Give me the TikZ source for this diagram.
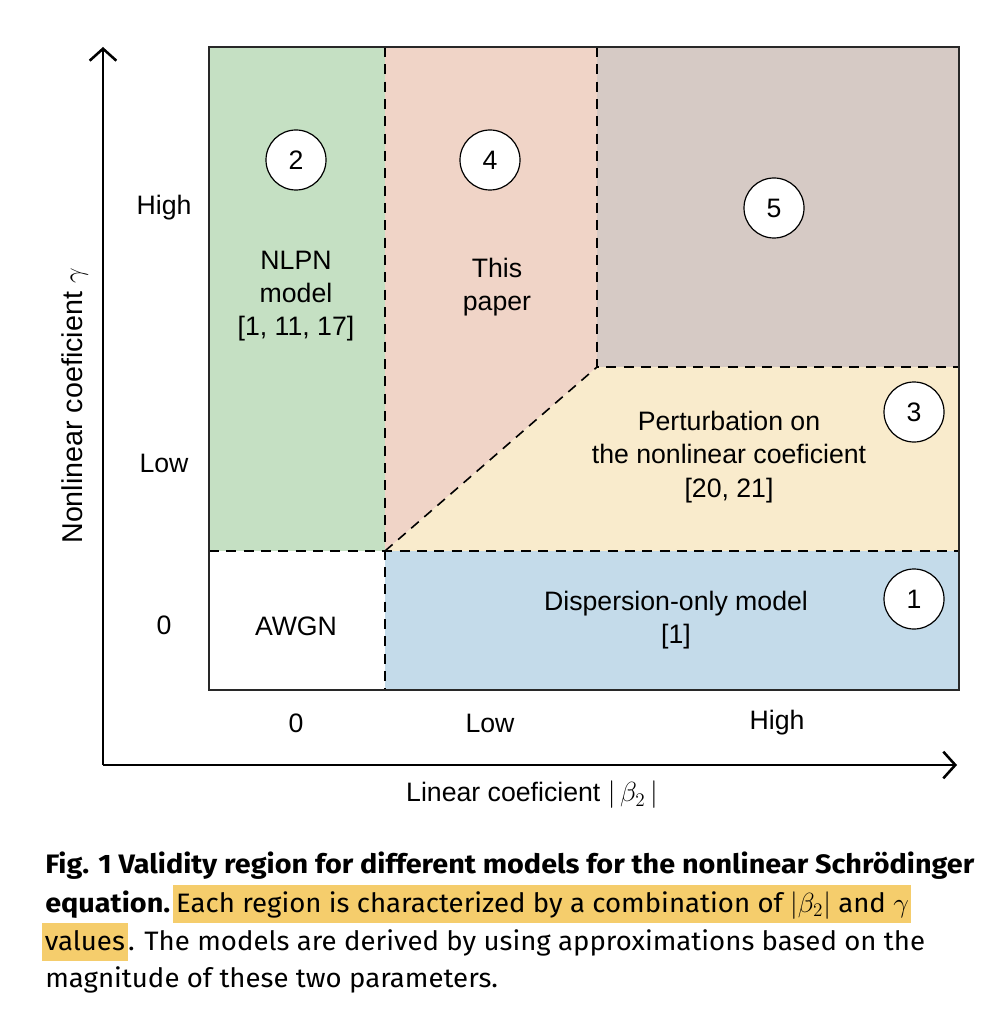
\documentclass[tikz,border=0pt]{standalone}
\usepackage{fontspec}
\setmainfont{Liberation Sans}
\newfontfamily\capfont[FakeStretch=1.035, BoldFeatures={FakeStretch=1.08}]{Fira Sans}
\usetikzlibrary{arrows.meta,positioning}
\definecolor{regGreen}{RGB}{197,224,195}
\definecolor{regPeach}{RGB}{240,212,199}
\definecolor{regTaupe}{RGB}{214,202,197}
\definecolor{regYellow}{RGB}{249,235,204}
\definecolor{regBlue}{RGB}{196,219,234}
\definecolor{hlYellow}{RGB}{245,205,108}
\definecolor{boxEdge}{RGB}{40,40,40}
\tikzset{
  lbl/.style={inner sep=0.75pt, font=\fontsize{20}{25}\selectfont, align=center},
  num/.style={circle, draw, fill=white, line width=0.9pt, minimum size=45pt, inner sep=0pt, font=\fontsize{20}{25}\selectfont},
  bound/.style={line width=1.2pt, dash pattern={on 7.5pt off 5.5pt}},
  axis/.style={line width=1.9pt, -{Straight Barb[length=9pt,width=20pt,line width=1.9pt]}},
  capline/.style={anchor=base west, inner sep=0pt, font=\capfont\fontsize{20}{28}\selectfont},
  hilite/.style={capline, fill=hlYellow, inner xsep=2pt, text height=20pt, text depth=8pt}
}
\begin{document}
\begin{tikzpicture}[x=0.75pt,y=0.75pt,yscale=-1,xscale=1]
        \useasboundingbox (0,0) rectangle (988,1012);
        % corners of the chart
        \coordinate (tl) at (209,47);
        \coordinate (br) at (959,690);
        \coordinate (midTop) at (385,47);
        \coordinate (midBot) at (385,690);
        \coordinate (zeroL) at (209,551);
        \coordinate (zeroR) at (959,551);
        \coordinate (knee) at (385,551);
        \coordinate (hiTop) at (597,47);
        \coordinate (hiCorner) at (597,367);
        \coordinate (hiR) at (959,367);
        % Regions
        \fill [regGreen] (tl) rectangle (knee);
        \fill [regPeach] (midTop) -- (hiTop) -- (hiCorner) -- (knee) -- cycle;
        \fill [regTaupe] (hiTop) rectangle (hiR);
        \fill [regYellow] (knee) -- (hiCorner) -- (hiR) -- (zeroR) -- cycle;
        \fill [regBlue] (knee) rectangle (br);
        % Region boundaries
        \draw [bound] (midTop) -- (midBot);
        \draw [bound] (zeroL) -- (zeroR);
        \draw [bound] (hiTop) -- (hiCorner) -- (hiR);
        \draw [bound] (knee) -- (hiCorner);
        \draw [boxEdge, line width=1.1pt] (tl) rectangle (br);
        % Axes
        \coordinate (origin) at (103,765);
        \coordinate (yTip) at (103,47);
        \coordinate (xTip) at (957,765);
        \draw [axis] (origin) -- (yTip);
        \draw [axis] (origin) -- (xTip);

        % Region numbers
        \node [num] (n2) at (296,160) {2};
        \node [num] (n4) at (490,160) {4};
        \node [num] (n5) at (774,208) {5};
        \node [num] (n3) at (914,412) {3};
        \node [num] (n1) at (914,599) {1};
        % Region texts
        \node [lbl] (nlpn) at (296,296) {NLPN\\model\\{[1, 11, 17]}};
        \node [lbl] (thisPaper) at (497,287) {This\\paper};
        \node [lbl] (perturb) at (729,457) {Perturbation on\\the nonlinear coeficient\\{[20, 21]}};
        \node [lbl] (disp) at (676,620) {Dispersion-only model\\{[1]}};
        \node [lbl] (awgn) at (296,626) {AWGN};
        % Tick texts
        \node [lbl] (yHigh) at (164,208) {High};
        \node [lbl] (yLow) at (164,463) {Low};
        \node [lbl] (yZero) at (164,625) {0};
        \node [lbl] (xZero) at (296,723) {0};
        \node [lbl] (xLow) at (490,723) {Low};
        \node [lbl] (xHigh) at (777,723) {High};
        % Axis titles
        \node [lbl, rotate=90, font=\fontsize{21.5}{25}\selectfont] (yTitle) at (75,406) {Nonlinear coeficient $\gamma$};
        \node [lbl] (xTitle) at (532,795) {Linear coeficient $\bigl|\,\beta_2\,\bigr|$};

        % Caption
        \node [capline] (cap1) at (45,873) {\bfseries Fig. 1 Validity region for different models for the nonlinear Schrödinger};
        \node [capline] (cap2a) at (45,912) {\bfseries equation.};
        \node [hilite, right=2pt of cap2a.base east, anchor=base west] (cap2b) {Each region is characterized by a combination of $|\beta_2|$ and $\gamma$};
        \node [hilite] (cap3a) at (42,950) {values};
        \node [capline] (cap3b) at (cap3a.base east) {. The models are derived by using approximations based on the};
        \node [capline] (cap4) at (45,987) {magnitude of these two parameters.};
    \end{tikzpicture}
\end{document}
